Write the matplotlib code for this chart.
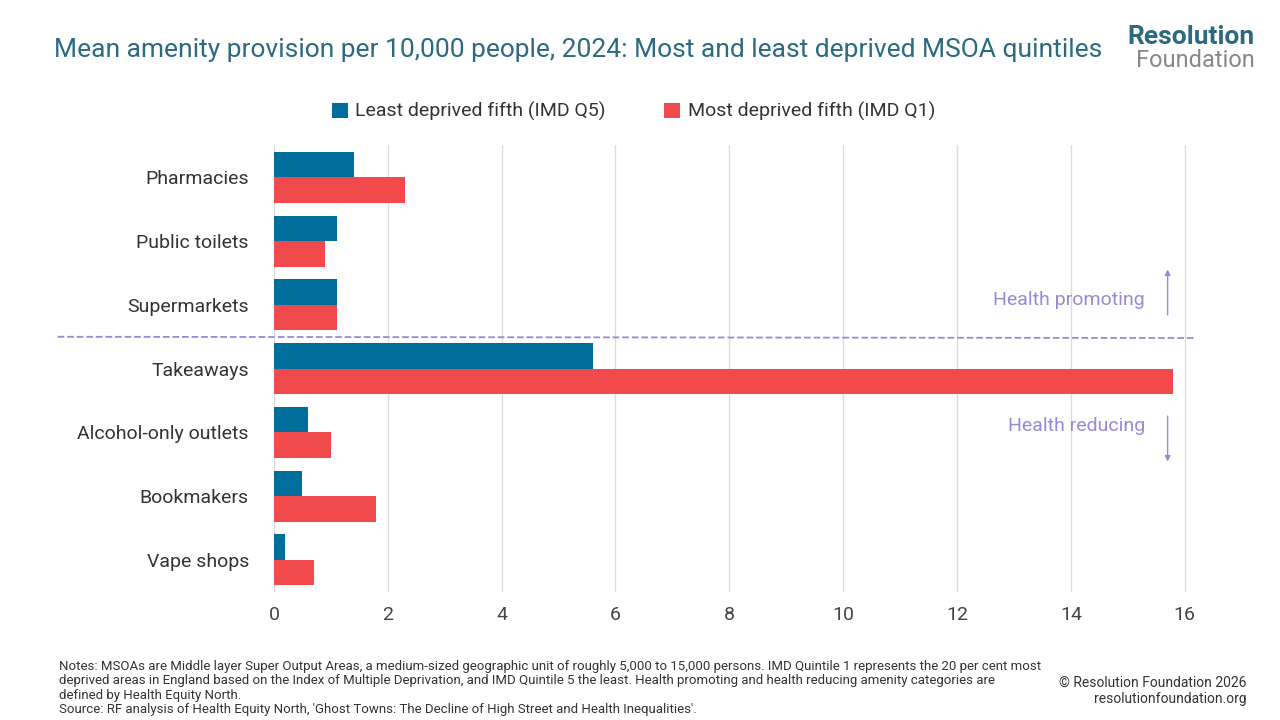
import matplotlib
matplotlib.use("Agg")
import matplotlib.pyplot as plt
import numpy as np

plt.rcParams['font.family'] = ['Roboto', 'DejaVu Sans']

categories = ["Pharmacies", "Public toilets", "Supermarkets", "Takeaways",
              "Alcohol-only outlets", "Bookmakers", "Vape shops"]
q5 = [1.4, 1.1, 1.1, 5.6, 0.6, 0.5, 0.2]
q1 = [2.3, 0.9, 1.1, 15.8, 1.0, 1.8, 0.7]
xticks = [0, 2, 4, 6, 8, 10, 12, 14, 16]

blue = "#006E9A"
red = "#F04A4C"
purple = "#9B88D4"

fig = plt.figure(figsize=(12.8, 7.2), dpi=100)
ax = fig.add_axes([0.214, 0.178, 0.716, 0.62])
y = np.arange(len(categories))
h = 0.4
ax.barh(y - h/2, q5, height=h, color=blue, label="Least deprived fifth (IMD Q5)")
ax.barh(y + h/2, q1, height=h, color=red, label="Most deprived fifth (IMD Q1)")
ax.set_ylim(len(categories) - 0.5, -0.5)
ax.set_xlim(0, 16.1)
ax.set_xticks(xticks)
ax.set_xticklabels([str(t) for t in xticks], fontsize=14, color="#444444")
ax.set_yticks(y)
ax.set_yticklabels(categories, fontsize=14, color="#333333")
ax.tick_params(axis='y', length=0, pad=18)
ax.tick_params(axis='x', length=0, pad=10)
ax.grid(axis='x', color="#dddddd", linewidth=1)
ax.set_axisbelow(True)
for s in ax.spines.values():
    s.set_visible(False)

# divider
ax.plot([-3.8, 16.2], [2.5, 2.52], ls='--', color=purple, lw=1.3, clip_on=False)
ax.text(15.3, 1.92, "Health promoting", color=purple, fontsize=14, ha='right', va='center')
ax.annotate("", xy=(15.7, 1.4), xytext=(15.7, 2.2),
            arrowprops=dict(arrowstyle='-|>', color=purple, lw=1, mutation_scale=8))
ax.text(15.3, 3.9, "Health reducing", color=purple, fontsize=14, ha='right', va='center')
ax.annotate("", xy=(15.7, 4.5), xytext=(15.7, 3.7),
            arrowprops=dict(arrowstyle='-|>', color=purple, lw=1, mutation_scale=8))

fig.legend(loc='center', bbox_to_anchor=(0.495, 0.845), ncol=2, frameon=False,
           fontsize=14, handlelength=0.8, handleheight=0.8, columnspacing=3,
           handletextpad=0.4, labelcolor="#333333")

fig.text(0.042, 0.93, "Mean amenity provision per 10,000 people, 2024: Most and least deprived MSOA quintiles",
         fontsize=19, color="#2B6A80", va='center')
fig.text(0.98, 0.948, "Resolution", fontsize=19, fontweight='bold', color="#2B6A80", ha='right', va='center')
fig.text(0.98, 0.916, "Foundation", fontsize=17, color="#888888", ha='right', va='center')

notes = ("Notes: MSOAs are Middle layer Super Output Areas, a medium-sized geographic unit of roughly 5,000 to 15,000 persons. IMD Quintile 1 represents the 20 per cent most\n"
         "deprived areas in England based on the Index of Multiple Deprivation, and IMD Quintile 5 the least. Health promoting and health reducing amenity categories are\n"
         "defined by Health Equity North.\n"
         "Source: RF analysis of Health Equity North, 'Ghost Towns: The Decline of High Street and Health Inequalities'.")
fig.text(0.046, 0.005, notes, fontsize=9.5, color="#333333", va='bottom', linespacing=1.15)
fig.text(0.974, 0.04, "© Resolution Foundation 2026\nresolutionfoundation.org", fontsize=10,
         color="#333333", ha='right', va='center', linespacing=1.2)

fig.savefig("out.png", dpi=100)
